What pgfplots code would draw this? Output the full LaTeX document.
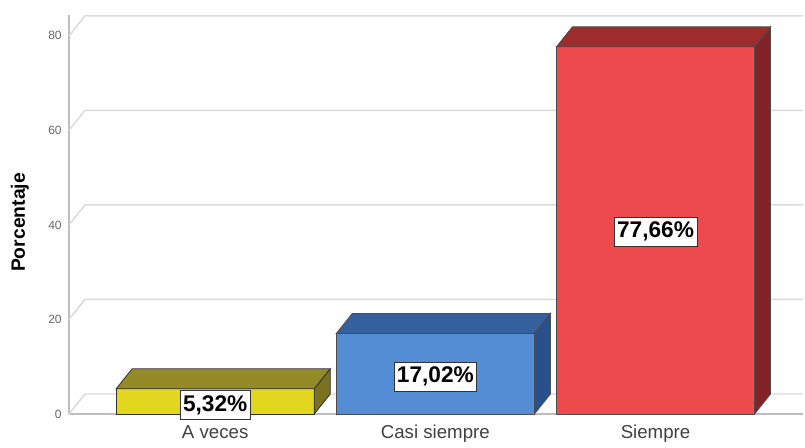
\documentclass[border=0pt]{standalone}
\usepackage{pgfplots}
\pgfplotsset{compat=1.18}
\usepackage{fontspec}
\setmainfont{Liberation Sans}
\definecolor{yfront}{RGB}{226,214,31}
\definecolor{ytop}{RGB}{148,138,40}
\definecolor{yside}{RGB}{122,114,32}
\definecolor{bfront}{RGB}{84,141,212}
\definecolor{btop}{RGB}{52,96,158}
\definecolor{bside}{RGB}{40,80,140}
\definecolor{rfront}{RGB}{236,74,76}
\definecolor{rtop}{RGB}{158,44,44}
\definecolor{rside}{RGB}{130,35,40}
\definecolor{gridc}{RGB}{218,218,218}
\definecolor{axc}{RGB}{190,190,190}
\begin{document}
\begin{tikzpicture}
\begin{axis}[name=ax, scale only axis,
  width=550.5pt, height=299.25pt,
  xmin=-0.664, xmax=2.670, ymin=0, ymax=84.4,
  clip=false,
  axis x line*=bottom, axis y line*=left,
  axis line style={draw=axc, line width=1.3pt},
  xtick={0,1,2}, xticklabels={A veces, Casi siempre, Siempre},
  ytick={0,20,40,60,80},
  major tick length=0pt,
  /pgf/number format/assume math mode=true,
  yticklabel style={font=\fontsize{9}{10}\selectfont, text=black!60, xshift=-2pt},
  xticklabel style={font=\fontsize{14}{16}\selectfont, text=black!75, yshift=-5pt},
  ylabel={Porcentaje},
  ylabel style={font=\bfseries\fontsize{14.5}{16}\selectfont, at={(axis description cs:-0.067,0.48)}, anchor=center},
]
% back-plane gridlines with depth connectors
\addplot[draw=gridc, line width=1.1pt] coordinates {(-0.664,0) (-0.5913,4.23) (2.670,4.23)};
\addplot[draw=gridc, line width=1.1pt] coordinates {(-0.664,20) (-0.5913,24.23) (2.670,24.23)};
\addplot[draw=gridc, line width=1.1pt] coordinates {(-0.664,40) (-0.5913,44.23) (2.670,44.23)};
\addplot[draw=gridc, line width=1.1pt] coordinates {(-0.664,60) (-0.5913,64.23) (2.670,64.23)};
\addplot[draw=gridc, line width=1.1pt] coordinates {(-0.664,80) (-0.5913,84.23) (2.670,84.23)};
% A veces 5.32
\addplot[fill=yfront, draw=black!80, line width=0.6pt] coordinates {(-0.45,0) (0.45,0) (0.45,5.32) (-0.45,5.32)} -- cycle;
\addplot[fill=ytop, draw=black!80, line width=0.6pt] coordinates {(-0.45,5.32) (0.45,5.32) (0.5227,9.55) (-0.3773,9.55)} -- cycle;
\addplot[fill=yside, draw=black!80, line width=0.6pt] coordinates {(0.45,0) (0.5227,4.23) (0.5227,9.55) (0.45,5.32)} -- cycle;
% Casi siempre 17.02
\addplot[fill=bfront, draw=black!70, line width=0.6pt] coordinates {(0.55,0) (1.45,0) (1.45,17.02) (0.55,17.02)} -- cycle;
\addplot[fill=btop, draw=black!70, line width=0.6pt] coordinates {(0.55,17.02) (1.45,17.02) (1.5227,21.25) (0.6227,21.25)} -- cycle;
\addplot[fill=bside, draw=black!70, line width=0.6pt] coordinates {(1.45,0) (1.5227,4.23) (1.5227,21.25) (1.45,17.02)} -- cycle;
% Siempre 77.66
\addplot[fill=rfront, draw=black!70, line width=0.6pt] coordinates {(1.55,0) (2.45,0) (2.45,77.66) (1.55,77.66)} -- cycle;
\addplot[fill=rtop, draw=black!70, line width=0.6pt] coordinates {(1.55,77.66) (2.45,77.66) (2.5227,81.89) (1.6227,81.89)} -- cycle;
\addplot[fill=rside, draw=black!70, line width=0.6pt] coordinates {(2.45,0) (2.5227,4.23) (2.5227,81.89) (2.45,77.66)} -- cycle;
% value labels
\node[draw=black!80, fill=white, inner xsep=2.2pt, inner ysep=3.5pt, font=\bfseries\fontsize{17}{19}\selectfont] at (axis cs:0,1.9) {5,32\%};
\node[draw=black!80, fill=white, inner xsep=2.2pt, inner ysep=3.5pt, font=\bfseries\fontsize{17}{19}\selectfont] at (axis cs:1,7.9) {17,02\%};
\node[draw=black!80, fill=white, inner xsep=2.2pt, inner ysep=3.5pt, font=\bfseries\fontsize{17}{19}\selectfont] at (axis cs:2,38.6) {77,66\%};
\end{axis}
\path[use as bounding box] ([xshift=-51.75pt,yshift=-23.25pt]ax.south west) rectangle ++(603.75pt,333.75pt);
\end{tikzpicture}
\end{document}
